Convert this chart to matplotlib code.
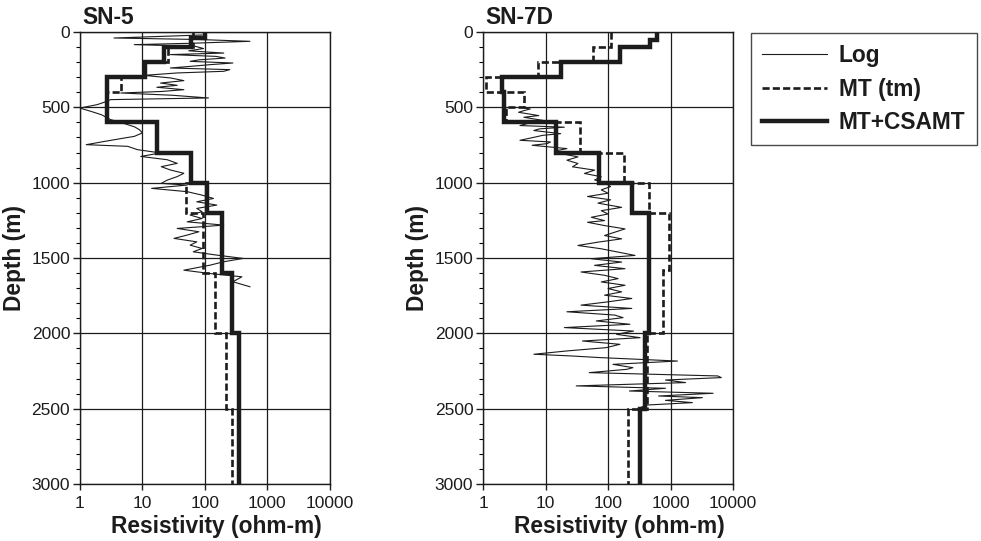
import numpy as np
import matplotlib
matplotlib.use('Agg')
import matplotlib.pyplot as plt
from matplotlib.ticker import MultipleLocator, LogLocator, NullFormatter
from matplotlib.lines import Line2D

plt.rcParams['font.family'] = ['Liberation Sans', 'DejaVu Sans']

# ---- SN-5 ----
sn5_log_depth = [20, 40, 50, 62, 75, 84, 95, 110, 125, 140, 150, 162, 173, 185, 195,
                 206, 217, 228, 239, 250, 261, 272, 288, 305, 323, 339, 354, 367, 383,
                 395, 405, 420, 438, 449, 465, 482, 505, 527, 549, 565, 582, 600, 615,
                 630, 648, 670, 693, 704, 726, 748, 759, 781, 803, 826, 848, 872, 894,
                 916, 938, 960, 983, 1005, 1016, 1038, 1060, 1083, 1105, 1127, 1149,
                 1171, 1193, 1215, 1238, 1260, 1282, 1304, 1326, 1348, 1370, 1393,
                 1415, 1437, 1459, 1481, 1503, 1525, 1548, 1581, 1603, 1625, 1658, 1691]
sn5_log_res = [90, 3.5, 80, 525, 60, 7.4, 70, 95, 55, 200, 28, 150, 210, 80, 58,
               280, 120, 60, 28, 250, 200, 36, 10.6, 28, 46, 19.5, 36, 17, 46,
               20, 4.5, 30, 114, 3.1, 2.5, 1.9, 1.0, 1.5, 2.2, 2.6, 3.1, 4.5, 5.8,
               7.5, 8.9, 10, 7.4, 5.1, 2.5, 1.26, 5.8, 8.3, 19.5, 9.4, 25, 36, 20,
               28, 46, 36, 25, 20, 52, 14, 52, 90, 137, 74, 155,
               74, 90, 58, 90, 52, 200, 36, 80, 52, 32, 74,
               58, 90, 65, 155, 410, 200, 120, 46, 120, 390, 280, 525]

sn5_mt_edges = [0, 100, 200, 300, 400, 600, 800, 1000, 1200, 1600, 2000, 2500, 3000]
sn5_mt_res = [65, 26, 11, 4.5, 2.7, 17, 60, 50, 92, 145, 220, 270]

sn5_cs_edges = [0, 40, 100, 200, 300, 600, 800, 1000, 1200, 1600, 2000, 3000]
sn5_cs_res = [100, 60, 22, 11, 2.7, 17, 60, 108, 190, 275, 355]

# ---- SN-7D ----
sn7_log_depth = [500, 511, 522, 533, 555, 566, 588, 600, 621, 632, 643, 654, 675, 686,
                 697, 719, 730, 741, 752, 774, 790, 807, 829, 851, 873, 895, 917, 939,
                 961, 982, 1000, 1026, 1048, 1070, 1092, 1114, 1136, 1164, 1186, 1208,
                 1230, 1252, 1263, 1285, 1307, 1329, 1351, 1373, 1395, 1417, 1439,
                 1461, 1483, 1505, 1527, 1549, 1571, 1593, 1615, 1637, 1659, 1681,
                 1703, 1725, 1747, 1769, 1791, 1813, 1835, 1857, 1879, 1896, 1918,
                 1940, 1962, 1985, 2007, 2029, 2051, 2073, 2095, 2117, 2139, 2150,
                 2161, 2184, 2206, 2228, 2239, 2261, 2283, 2294, 2310, 2327, 2349,
                 2365, 2383, 2398, 2416, 2427, 2445, 2460, 2476, 2493]
sn7_log_res = [3.9, 5.7, 4.5, 3.7, 7.8, 4.5, 9.4, 6, 3.9, 20, 8, 6.5, 17.5, 9,
               6.9, 3.9, 12, 10.6, 6.1, 22, 14, 17.5, 33, 22, 33, 27, 61, 42,
               78, 61, 88, 110, 78, 100, 47, 110, 69, 165, 78, 100,
               54, 88, 47, 88, 187, 128, 88, 165, 69, 33, 78,
               145, 270, 54, 165, 61, 187, 37, 88, 145, 78, 187,
               100, 165, 88, 240, 100, 37, 240, 22, 128, 174, 65,
               224, 20, 256, 137, 326, 39, 155, 94, 22, 6.5, 25,
               73, 1290, 120, 250, 200, 50, 5700, 6500, 830, 1740, 31,
               830, 220, 4800, 645, 3240, 830, 2240, 420, 330]

sn7_mt_edges = [0, 100, 200, 300, 400, 500, 600, 800, 1000, 1200, 1580, 2000, 2500, 3000]
sn7_mt_res = [112, 58, 7.6, 1.1, 4.5, 2.3, 36, 177, 445, 930, 760, 420, 208]

sn7_cs_edges = [0, 50, 100, 200, 300, 400, 600, 800, 1000, 1200, 2000, 2500, 3000]
sn7_cs_res = [600, 470, 156, 18, 2.0, 2.2, 14.5, 73, 240, 450, 395, 330]

x_ticks = [1, 10, 100, 1000, 10000]
x_labels = ['1', '10', '100', '1000', '10000']
legend_labels = ['Log', 'MT (tm)', 'MT+CSAMT']

ink = '#1c1c1c'
dash = (2.7, 1.2)


def draw_well(ax, name, log_d, log_r, mt_e, mt_r, cs_e, cs_r):
    ax.plot(log_r, log_d, c=ink, lw=0.8)
    ax.stairs(mt_r, mt_e, orientation='horizontal', baseline=None,
              color=ink, lw=1.9, linestyle=(0, dash))
    ax.stairs(cs_r, cs_e, orientation='horizontal', baseline=None,
              color=ink, lw=3.2)

    ax.set_xscale('log')
    ax.set_xlim(1, 10000)
    ax.set_ylim(3000, 0)
    ax.set_xticks(x_ticks, x_labels)
    ax.xaxis.set_minor_locator(LogLocator(base=10, subs=np.arange(2, 10)))
    ax.xaxis.set_minor_formatter(NullFormatter())
    ax.yaxis.set_major_locator(MultipleLocator(500))
    ax.yaxis.set_minor_locator(MultipleLocator(100))

    ax.grid(True, which='major', color=ink, lw=0.9)
    ax.tick_params(axis='both', which='major', labelsize=12.5, colors=ink, width=1)
    ax.tick_params(axis='x', which='major', direction='out', length=4, pad=5)
    ax.tick_params(axis='x', which='minor', direction='in', length=3.5, width=0.8)
    ax.tick_params(axis='y', which='major', direction='out', length=5, pad=2)
    ax.tick_params(axis='y', which='minor', direction='out', length=3, width=0.8)
    for s in ax.spines.values():
        s.set_color(ink)
        s.set_linewidth(1)

    ax.set_xlabel('Resistivity (ohm-m)', fontsize=16.4, fontweight='bold', color=ink)
    ax.xaxis.set_label_coords(0.545, -0.068)
    ax.set_ylabel('Depth (m)', fontsize=16.4, fontweight='bold', color=ink, labelpad=4)
    ax.set_title(name, loc='left', fontsize=16.4, fontweight='bold', color=ink,
                 pad=6, x=0.01)


fig = plt.figure(figsize=(9.81, 5.41), dpi=100)
ax1 = fig.add_axes([0.0815, 0.1054, 0.2548, 0.8355])
ax2 = fig.add_axes([0.4924, 0.1054, 0.2548, 0.8355])

draw_well(ax1, 'SN-5', sn5_log_depth, sn5_log_res, sn5_mt_edges, sn5_mt_res,
          sn5_cs_edges, sn5_cs_res)
draw_well(ax2, 'SN-7D', sn7_log_depth, sn7_log_res, sn7_mt_edges, sn7_mt_res,
          sn7_cs_edges, sn7_cs_res)

handles = [Line2D([], [], c=ink, lw=0.8),
           Line2D([], [], c=ink, lw=1.9, linestyle=(0, dash)),
           Line2D([], [], c=ink, lw=3.2)]
leg = fig.legend(handles, legend_labels, loc='upper left',
                 bbox_to_anchor=(0.7655, 0.939), frameon=True, fancybox=False,
                 prop={'size': 16.4, 'weight': 'bold'}, handlelength=2.85,
                 labelspacing=0.45, borderpad=0.5, handletextpad=0.5,
                 borderaxespad=0)
leg.get_frame().set_edgecolor(ink)
leg.get_frame().set_linewidth(1)
for t in leg.get_texts():
    t.set_color(ink)

fig.savefig('out.png', dpi=100)
